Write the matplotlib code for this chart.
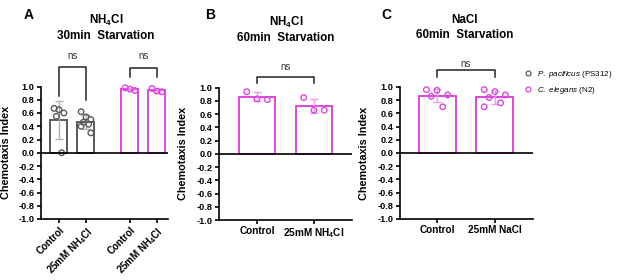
import numpy as np
import matplotlib
matplotlib.use("Agg")
import matplotlib.pyplot as plt
from matplotlib.lines import Line2D

plt.rcParams['font.family'] = ['Liberation Sans', 'DejaVu Sans']
plt.rcParams['mathtext.fontset'] = 'custom'
plt.rcParams['mathtext.rm'] = 'Liberation Sans'
plt.rcParams['mathtext.bf'] = 'Liberation Sans:bold'
plt.rcParams['mathtext.it'] = 'Liberation Sans:italic'

# ---------------- data ----------------
A_labels = ["Control", r"25mM NH$_\mathbf{4}$Cl", "Control", r"25mM NH$_\mathbf{4}$Cl"]
A_pp_control = [0.67, 0.65, 0.60, 0.55, 0.00]
A_pp_nh4cl = [0.62, 0.54, 0.50, 0.46, 0.43, 0.40, 0.30]
A_ce_control = [0.98, 0.96, 0.94]
A_ce_nh4cl = [0.97, 0.93, 0.92]

B_labels = ["Control", r"25mM NH$_\mathbf{4}$Cl"]
B_ce_control = [0.94, 0.83, 0.82]
B_ce_nh4cl = [0.85, 0.66, 0.66]

C_labels = ["Control", "25mM NaCl"]
C_ce_control = [0.96, 0.95, 0.88, 0.86, 0.70]
C_ce_nacl = [0.96, 0.93, 0.88, 0.84, 0.76, 0.70]

yticks = [-1.0, -0.8, -0.6, -0.4, -0.2, 0.0, 0.2, 0.4, 0.6, 0.8, 1.0]
legend_labels = [r"$\it{P.\ pacificus}$ (PS312)", r"$\it{C.\ elegans}$ (N2)"]

GRAY = "#5a5a5a"
GRAY_ERR = "#b0b0b0"
MAG = "#dd47dd"
MAG_ERR = "#e99be9"

W, H = 617, 280
fig = plt.figure(figsize=(W / 100, H / 100), dpi=100)


def px_axes(l, r, top, bot):
    return fig.add_axes([l / W, 1 - bot / H, (r - l) / W, (bot - top) / H])


def jitter(n):
    pattern = [-0.22, 0.0, 0.22, -0.12, 0.12, -0.22, 0.22]
    return np.array(pattern[:n])


def draw_group(ax, x, vals, color, ecolor, width):
    vals = np.asarray(vals)
    m = vals.mean()
    sd = vals.std(ddof=1)
    ax.bar(x, m, width=width, facecolor='white', edgecolor=color, linewidth=1.4, zorder=2)
    ax.errorbar(x, m, yerr=sd, color=ecolor, lw=1.0, capsize=3, capthick=1.0, zorder=3)
    ax.scatter(x + jitter(len(vals)) * width * 1.3, vals, s=16, facecolor='none',
               edgecolor=color, linewidth=1.0, zorder=4, clip_on=False)


def style_axes(ax, xpos, labels, xlim, rot=0):
    ax.set_ylim(-1.0, 1.0)
    ax.set_xlim(*xlim)
    ax.set_yticks(yticks)
    ax.set_yticklabels([f"{v:.1f}" for v in yticks], fontsize=6.6, fontweight='bold')
    ax.set_xticks(xpos)
    if rot:
        ax.set_xticklabels(labels, fontsize=7, fontweight='bold', rotation=rot,
                           ha='right', rotation_mode='anchor')
    else:
        ax.set_xticklabels(labels, fontsize=7.2, fontweight='bold')
    ax.spines['top'].set_visible(False)
    ax.spines['right'].set_visible(False)
    for s in ('left', 'bottom'):
        ax.spines[s].set_linewidth(1.2)
    ax.tick_params(axis='both', direction='out', length=3, width=1.2, pad=1.5)
    ax.axhline(0, color='black', lw=1.2, zorder=5)
    ax.set_ylabel("Chemotaxis Index", fontsize=7.8, fontweight='bold', labelpad=1)


def bracket(ax, x1, x2, top, l1, l2, text_y):
    ax.plot([x1, x1, x2, x2], [l1, top, top, l2], color='#222222', lw=1.1, clip_on=False)
    ax.text((x1 + x2) / 2, text_y, "ns", fontsize=7, ha='center', va='center', color='#333333')


# ---------------- Panel A ----------------
axA = px_axes(41, 168, 86.5, 219)
xA = [0, 1, 2.63, 3.63]
wA = 0.63
draw_group(axA, xA[0], A_pp_control, GRAY, GRAY_ERR, wA)
draw_group(axA, xA[1], A_pp_nh4cl, GRAY, GRAY_ERR, wA)
draw_group(axA, xA[2], A_ce_control, MAG, MAG_ERR, wA)
draw_group(axA, xA[3], A_ce_nh4cl, MAG, MAG_ERR, wA)
style_axes(axA, xA, A_labels, (-0.667, 4.04), rot=45)
axA.yaxis.set_label_coords(-0.235, 0.5)
bracket(axA, xA[0], xA[1], 1.30, 0.85, 0.80, 1.46)
bracket(axA, xA[2], xA[3], 1.28, 1.15, 1.15, 1.46)

# ---------------- Panel B ----------------
axB = px_axes(219, 352, 87.7, 220)
xB = [0, 1]
wB = 0.63
draw_group(axB, xB[0], B_ce_control, MAG, MAG_ERR, wB)
draw_group(axB, xB[1], B_ce_nh4cl, MAG, MAG_ERR, wB)
style_axes(axB, xB, B_labels, (-0.667, 1.667))
axB.yaxis.set_label_coords(-0.235, 0.5)
bracket(axB, xB[0], xB[1], 1.16, 1.07, 1.07, 1.31)

# ---------------- Panel C ----------------
axC = px_axes(400, 533, 87, 219)
xC = [0, 1]
wC = 0.64
draw_group(axC, xC[0], C_ce_control, MAG, MAG_ERR, wC)
draw_group(axC, xC[1], C_ce_nacl, MAG, MAG_ERR, wC)
style_axes(axC, xC, C_labels, (-0.64, 1.66))
axC.yaxis.set_label_coords(-0.235, 0.5)
bracket(axC, xC[0], xC[1], 1.26, 1.15, 1.15, 1.35)

# ---------------- titles / letters ----------------
def ftext(x, y, s, **kw):
    fig.text(x / W, 1 - y / H, s, **kw)

tkw = dict(fontsize=8.4, fontweight='bold', ha='center', va='center')
ftext(106, 20, r"NH$_\mathbf{4}$Cl", **tkw)
ftext(106, 36, "30min  Starvation", **tkw)
ftext(286, 22, r"NH$_\mathbf{4}$Cl", **tkw)
ftext(286, 38, "60min  Starvation", **tkw)
ftext(465, 20, "NaCl", **tkw)
ftext(465, 35, "60min  Starvation", **tkw)

lkw = dict(fontsize=10, fontweight='bold', ha='center', va='center')
ftext(29, 15, "A", **lkw)
ftext(210, 15, "B", **lkw)
ftext(386, 15, "C", **lkw)

# ---------------- legend ----------------
handles = [Line2D([], [], ls='none', marker='o', ms=3.5, mfc='none', mec=GRAY, mew=0.9),
           Line2D([], [], ls='none', marker='o', ms=3.5, mfc='none', mec=MAG, mew=0.9)]
fig.legend(handles, legend_labels, loc='upper left', bbox_to_anchor=(524 / W, 1 - 69 / H),
           frameon=False, fontsize=5.8, handlelength=1.0, handletextpad=0.6,
           labelspacing=0.6, borderpad=0, borderaxespad=0)

fig.savefig("out.png", dpi=100)
